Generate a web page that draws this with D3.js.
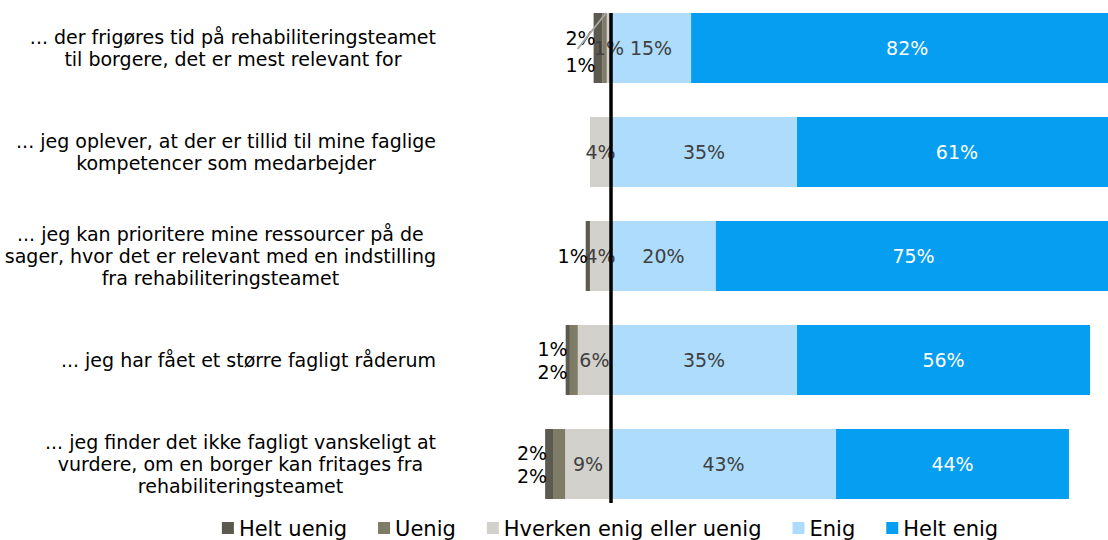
<!DOCTYPE html>
<html>
<head>
<meta charset="utf-8">
<script src="https://cdn.jsdelivr.net/npm/d3@7"></script>
<style>
  body { margin: 0; background: #fff; }
  text { font-family: "DejaVu Sans", Verdana, sans-serif; }
</style>
</head>
<body>
<svg id="chart" width="1108" height="540"></svg>
<script>
var categories = [
    "... der frigøres tid på rehabiliteringsteamet\ntil borgere, det er mest relevant for",
    "... jeg oplever, at der er tillid til mine faglige\nkompetencer som medarbejder",
    "... jeg kan prioritere mine ressourcer på de\nsager, hvor det er relevant med en indstilling\nfra rehabiliteringsteamet",
    "... jeg har fået et større fagligt råderum",
    "... jeg finder det ikke fagligt vanskeligt at\nvurdere, om en borger kan fritages fra\nrehabiliteringsteamet"
];

var seriesNames = ['Helt uenig', 'Uenig', 'Hverken enig eller uenig', 'Enig', 'Helt enig'];
var seriesColors = ['#5c5a4e', '#7e7b67', '#d3d1cb', '#addcfd', '#069ef0'];

// percentages per category
var heltUenig = [1.7, 0, 0.8, 0.8, 1.5];
var uenig = [0.8, 0, 0, 1.5, 2.3];
var hverken = [0.8, 4.0, 4.0, 6.3, 8.7];
var enig = [15.2, 35.3, 19.9, 35.3, 42.7];
var heltEnig = [82, 60.7, 75, 55.6, 44.2];

var series = [heltUenig, uenig, hverken, enig, heltEnig];

var svg = d3.select('#chart');

var x = d3.scaleLinear().domain([0, 100]).range([611, 611 + 527]);
var y = d3.scaleBand().domain(d3.range(categories.length)).range([-4, 516])
    .paddingInner(0.327).paddingOuter(0.1635);

var bh = y.bandwidth();

// stack: hverken / uenig / helt uenig go left of zero, enig / helt enig right
var rows = categories.map(function(c, i) {
    var segs = [];
    var left = 0;
    [2, 1, 0].forEach(function(s) {
        var v = series[s][i];
        segs.push({s: s, v: v, x0: left - v, x1: left, row: i});
        left -= v;
    });
    var right = 0;
    [3, 4].forEach(function(s) {
        var v = series[s][i];
        segs.push({s: s, v: v, x0: right, x1: right + v, row: i});
        right += v;
    });
    return {i: i, segs: segs, left: left};
});

var gRows = svg.selectAll('g.row').data(rows).enter().append('g').attr('class', 'row');

gRows.selectAll('rect').data(function(d) { return d.segs.filter(function(s) { return s.v > 0; }); })
    .enter().append('rect')
    .attr('x', function(d) { return x(d.x0); })
    .attr('width', function(d) { return x(d.x1) - x(d.x0); })
    .attr('y', function(d) { return y(d.row); })
    .attr('height', bh)
    .attr('fill', function(d) { return seriesColors[d.s]; });

// inside labels
gRows.selectAll('text.in').data(function(d) { return d.segs.filter(function(s) { return s.s >= 2 && s.v > 0; }); })
    .enter().append('text')
    .attr('class', 'in')
    .attr('x', function(d) { return (x(d.x0) + x(d.x1)) / 2; })
    .attr('y', function(d) { return y(d.row) + bh / 2; })
    .attr('dy', '0.36em')
    .attr('text-anchor', 'middle')
    .style('font-size', '19px')
    .attr('fill', function(d) { return d.s == 4 ? '#fff' : '#404040'; })
    .text(function(d) { return Math.round(d.v) + '%'; });

// outside labels for the small disagree parts
rows.forEach(function(r) {
    var out = r.segs.filter(function(s) { return s.s < 2 && s.v > 0; })
        .sort(function(a, b) { return a.s - b.s; });
    var cy = y(r.i) + bh / 2;
    var xr = x(r.left) + 2;
    var offs = out.length == 2 ? [-11, 12] : [0];
    if (r.i == 0) offs = [-10, 17];
    out.forEach(function(s, k) {
        svg.append('text')
            .attr('x', xr)
            .attr('y', cy + offs[k])
            .attr('dy', '0.36em')
            .attr('text-anchor', 'end')
            .style('font-size', '19px')
            .attr('fill', '#000')
            .text(Math.round(s.v) + '%');
    });
    if (r.i == 0) {
        // leader line for the first row
        svg.append('line')
            .attr('x1', x(r.left) - 16).attr('y1', cy + 1)
            .attr('x2', x(0) - 5).attr('y2', y(r.i))
            .attr('stroke', '#a6a6a6').attr('stroke-width', 2);
    }
});

// zero line
svg.append('line')
    .attr('x1', x(0)).attr('x2', x(0))
    .attr('y1', y(0)).attr('y2', y(categories.length - 1) + bh + 4)
    .attr('stroke', '#000').attr('stroke-width', 3.5);

// category labels, centred block right-aligned at 436
gRows.each(function(r) {
    var lines = categories[r.i].split('\n');
    var lh = 22;
    var t = d3.select(this).append('text')
        .attr('text-anchor', 'middle')
        .style('font-size', '19px')
        .attr('fill', '#000');
    lines.forEach(function(l, k) {
        t.append('tspan')
            .attr('y', y(r.i) + bh / 2 + (k - (lines.length - 1) / 2) * lh)
            .attr('dy', '0.36em')
            .text(l);
    });
    var w = 0;
    t.selectAll('tspan').each(function() { w = Math.max(w, this.getComputedTextLength()); });
    t.selectAll('tspan').attr('x', 436 - w / 2);
});

// legend
var lg = svg.append('g');
var lx = 0;
seriesNames.forEach(function(n, i) {
    var it = lg.append('g').attr('transform', 'translate(' + lx + ',0)');
    it.append('rect').attr('x', 0).attr('y', -6).attr('width', 12).attr('height', 12)
        .attr('fill', seriesColors[i]);
    var t = it.append('text').attr('x', 17).attr('dy', '0.36em')
        .style('font-size', '21px').attr('fill', '#000').text(n);
    lx += 17 + t.node().getComputedTextLength() + 31;
});
lx -= 31;
lg.attr('transform', 'translate(' + (x(0) - 1 - lx / 2) + ',528)');
</script>
</body>
</html>
